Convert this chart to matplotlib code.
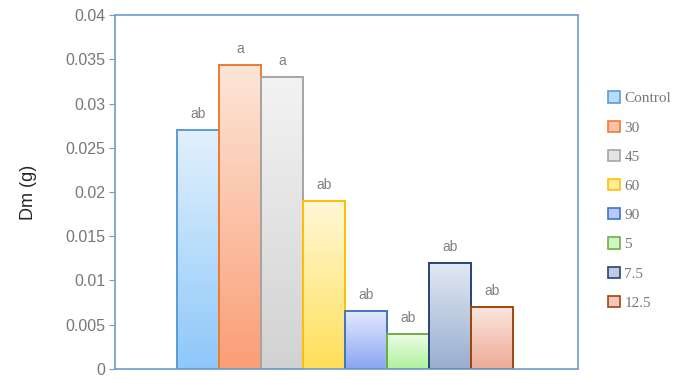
import numpy as np
import matplotlib
matplotlib.use('Agg')
import matplotlib.pyplot as plt
from matplotlib.patches import Rectangle
from matplotlib.colors import to_rgb
from matplotlib.ticker import FuncFormatter, MultipleLocator

categories = ['Control', '30', '45', '60', '90', '5', '7.5', '12.5']
values = [0.027, 0.0344, 0.033, 0.019, 0.0066, 0.004, 0.012, 0.007]
letters = ['ab', 'a', 'a', 'ab', 'ab', 'ab', 'ab', 'ab']

edge_colors = ['#5b9bd5', '#ed7d31', '#a5a5a5', '#ffc000', '#4472c4', '#70ad47', '#264478', '#9e480e']
top_colors = ['#e2f0fd', '#fde6d8', '#f3f3f3', '#fff8d8', '#e4ebfd', '#eefbe6', '#e2e9f2', '#f9e6de']
bottom_colors = ['#8ec8fa', '#fa9e76', '#d2d2d2', '#ffdf5a', '#8aa6f2', '#aef29c', '#98aed0', '#eeaa98']

frame_col = '#6f9ccb'
text_col = '#777777'

fig = plt.figure(figsize=(6.78, 3.79), dpi=100)
ax = fig.add_axes([0.1696, 0.0264, 0.683, 0.934])

for i, (v, e, t, b) in enumerate(zip(values, edge_colors, top_colors, bottom_colors)):
    grad = np.linspace(to_rgb(t), to_rgb(b), 100).reshape(100, 1, 3)
    ax.imshow(grad, extent=(i - 0.5, i + 0.5, 0, v), aspect='auto', zorder=1,
              interpolation='bilinear')
    ax.add_patch(Rectangle((i - 0.5, 0), 1, v, facecolor='none', edgecolor=e,
                           linewidth=1.4, zorder=2))
    ax.text(i, v + 0.001, letters[i], ha='center', va='bottom', fontsize=10,
            color='#808080', family='Liberation Sans')

ax.set_xlim(-1.98, 9.04)
ax.set_ylim(0, 0.04)
ax.yaxis.set_major_locator(MultipleLocator(0.005))
ax.yaxis.set_major_formatter(FuncFormatter(lambda v, p: '%g' % round(v, 4)))
ax.set_xticks([])
for s in ax.spines.values():
    s.set_color(frame_col)
    s.set_linewidth(1.2)
ax.tick_params(axis='y', colors=frame_col, labelcolor=text_col, labelsize=11.5,
               length=4, direction='out', pad=3)
for lab in ax.get_yticklabels():
    lab.set_family('Liberation Sans')
ax.set_ylabel('Dm (g)', fontsize=13, color='#262626', family='Liberation Sans', labelpad=20)

# legend
legend_fill = [tuple((np.array(to_rgb(t)) + np.array(to_rgb(b))) / 2)
               for t, b in zip(top_colors, bottom_colors)]
handles = [Rectangle((0, 0), 1, 1, facecolor=f, edgecolor=e, linewidth=1.2)
           for f, e in zip(legend_fill, edge_colors)]
leg = fig.legend(handles, categories, loc='upper left', bbox_to_anchor=(0.877, 0.795),
                 frameon=False, handlelength=0.75, handleheight=0.75, handletextpad=0.3,
                 labelspacing=1.0, prop={'family': 'Liberation Serif', 'size': 11})
for t in leg.get_texts():
    t.set_color(text_col)

fig.savefig('out.png', dpi=100)
